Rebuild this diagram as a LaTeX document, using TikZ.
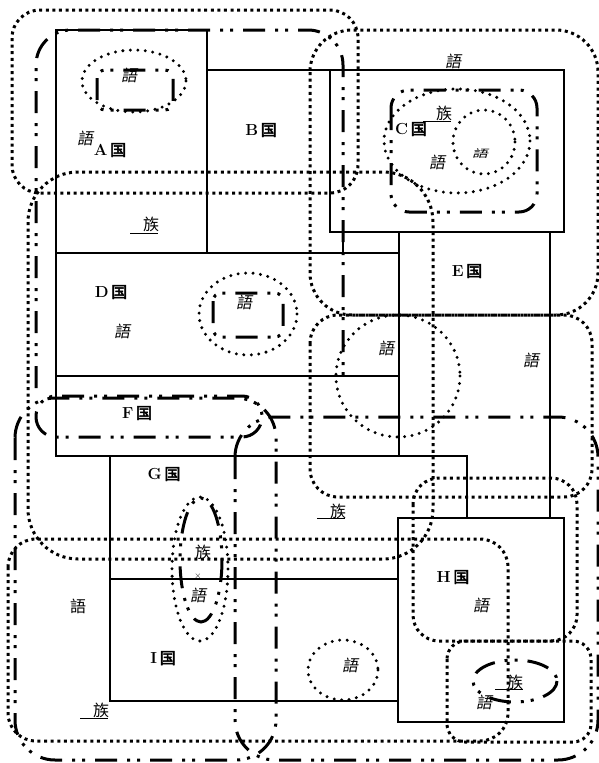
\documentclass[tikz,border=0pt]{standalone}
\usepackage{fontspec}
\newfontfamily\cjk{Noto Sans CJK SC}
\newfontfamily\cjkheavy[FakeBold=3]{Noto Sans CJK SC}
\newfontfamily\cjksl[FakeSlant=0.18]{Noto Sans CJK SC}
\tikzset{
  solidline/.style={line width=2.9pt},
  dotline/.style={line width=3pt, dash pattern=on 3pt off 3.6pt},
  dotround/.style={line width=3.3pt, line cap=round, dash pattern=on 0pt off 7.5pt},
  dashdotline/.style={line width=3pt, dash pattern=on 22pt off 10pt on 3pt off 7pt on 3pt off 10pt},
  country/.style={inner sep=0pt, font=\fontsize{16}{16}\selectfont},
  go/.style={inner sep=0pt, font=\fontsize{16}{16}\selectfont\cjksl},
  zoku/.style={inner sep=0pt, font=\fontsize{16}{16}\selectfont\cjk},
}
\newcommand{\kuni}[1]{\textbf{#1}\,{\cjkheavy 国}}
\begin{document}
\begin{tikzpicture}[x=1pt,y=-1pt]
\useasboundingbox (0,0) rectangle (599,763);
% countries (solid)
\draw[solidline] (56,30) rectangle (207,253);          % A
\draw[solidline] (207,70) -- (330,70);                  % B top
\draw[solidline] (343,232) -- (343,253);                % B right
\draw[solidline] (330,70) rectangle (564,232);          % C
\draw[solidline] (56,253) rectangle (399,376);          % D
\draw[solidline] (56,376) rectangle (399,456);          % F
\draw[solidline] (399,232) -- (399,456);                % E left
\draw[solidline] (550,232) -- (550,518);                % E right
\draw[solidline] (110,456) -- (467,456) -- (467,518);   % G top/right
\draw[solidline] (110,456) -- (110,701) -- (398,701);   % G/I left, I bottom
\draw[solidline] (110,579) -- (398,579);                % G/I border
\draw[solidline] (398,518) rectangle (564,722);         % H
% dotted outlines
\draw[dotline, rounded corners=28pt] (12,10) rectangle (358,193);
\draw[dotline, rounded corners=42pt] (310,30) rectangle (598,315);
\draw[dotline, rounded corners=50pt] (28,172) rectangle (433,559);
\draw[dotline, rounded corners=28pt] (310,315) rectangle (592,497);
\draw[dotline, rounded corners=26pt] (413,478) rectangle (577,641);
\draw[dotline, rounded corners=28pt] (8,539) rectangle (508,741);
\draw[dotline, rounded corners=18pt] (447,641) rectangle (591,742);
\draw[dotround] (398,376) ellipse [x radius=62, y radius=61];
\draw[dotround] (343,670) ellipse [x radius=35, y radius=30];
\draw[dotround] (200,569) ellipse [x radius=28, y radius=72];
\draw[dotround] (134,81) ellipse [x radius=52, y radius=31];
\draw[dotround] (248,314) ellipse [x radius=49, y radius=41];
\draw[dotround] (457,141) ellipse [x radius=73, y radius=52];
\draw[dotround] (484,142) ellipse [x radius=31, y radius=32];
% dash-dot outlines
\draw[dashdotline, rounded corners=35pt] (36,388) -- (36,30) -- (343,30) -- (343,376);
\draw[dashdotline, rounded corners=20pt] (36,396) rectangle (262,437);
\draw[dashdotline, rounded corners=18pt] (391,90) rectangle (537,212);
\draw[dashdotline, rounded corners=8pt] (97,70) rectangle (173,110);
\draw[dashdotline, rounded corners=8pt] (213,293) rectangle (283,337);
\draw[dashdotline] (515,681) ellipse [x radius=42, y radius=21];
\draw[dashdotline] (201,560) ellipse [x radius=21, y radius=62];
\draw[dashdotline, rounded corners=40pt] (235,417) rectangle (598,760);
\draw[dashdotline, rounded corners=40pt] (15,398) rectangle (276,760);
% country labels
\node[country] (la) at (110,150) {\kuni{A}};
\node[country] (lb) at (261,130) {\kuni{B}};
\node[country] (lc) at (411,129) {\kuni{C}};
\node[country] (ld) at (111,292) {\kuni{D}};
\node[country] (le) at (467,271) {\kuni{E}};
\node[country] (lf) at (137,413) {\kuni{F}};
\node[country] (lg) at (164,474) {\kuni{G}};
\node[country] (lh) at (453,577) {\kuni{H}};
\node[country] (li) at (163,658) {\kuni{I}};
% language labels
\node[go] (g1) at (129,75) {語};
\node[go] (g2) at (85,138) {語};
\node[go] (g3) at (453,61) {語};
\node[go] (g4) at (437,162) {語};
\node[go] (g5) at (480,154) {\scalebox{1}[0.65]{語}};
\node[go] (g6) at (122,331) {語};
\node[go] (g7) at (244,302) {語};
\node[go] (g8) at (386,348) {語};
\node[go] (g9) at (531,360) {語};
\node[go] (g10) at (198,595) {語};
\node[zoku] (g11) at (78,606) {語};
\node[go] (g12) at (481,605) {語};
\node[go] (g13) at (350,665) {語};
\node[go] (g14) at (484,702) {語};
% ethnic labels
\node[zoku] (z1) at (151,224) {族};
\node[zoku] (z2) at (444,113) {族};
\node[zoku] (z3) at (338,511) {族};
\node[zoku] (z4) at (203,552) {族};
\node[zoku] (z5) at (101,710) {族};
\node[zoku] (z6) at (515,682) {族};
\node[inner sep=0pt, font=\fontsize{9}{9}\selectfont] (x1) at (198,576) {$\times$};
% underlines of the 族 labels
\draw[line width=0.9pt] (130,233) -- (158,233);
\draw[line width=0.9pt] (423,121) -- (451,121);
\draw[line width=0.9pt] (317,518) -- (345,518);
\draw[line width=0.9pt] (80,718) -- (108,718);
\draw[line width=0.9pt] (495,689) -- (523,689);
\end{tikzpicture}
\end{document}
